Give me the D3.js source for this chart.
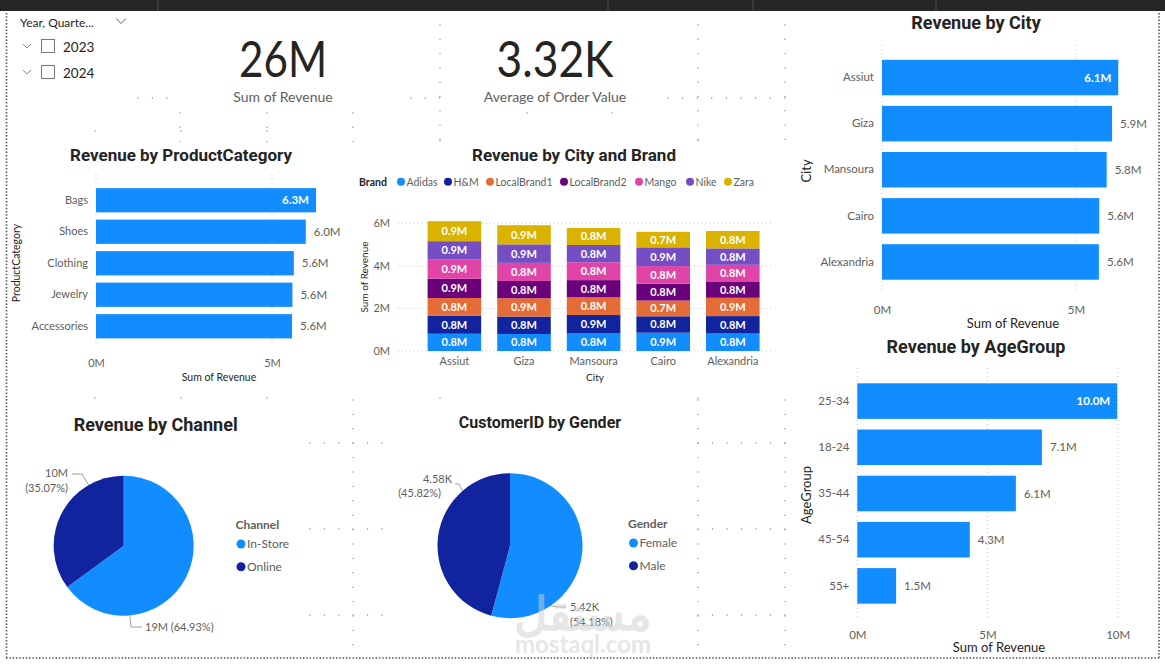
<!DOCTYPE html>
<html><head><meta charset="utf-8">
<script src="https://cdn.jsdelivr.net/npm/d3@7"></script>
<style>
html,body{margin:0;padding:0;background:#fff;}
svg{display:block;}
text{font-family:Lato,"Open Sans",sans-serif;}
.ttl{font-family:Roboto,sans-serif;font-weight:700;fill:#252423;}
</style></head>
<body>
<svg id="c" width="1165" height="669"></svg>
<script>
// ---------------- DATA ----------------
const years = ["2023", "2024"];
const kpiRevenue = "26M";
const kpiOrderValue = "3.32K";

const productCategories = ["Bags", "Shoes", "Clothing", "Jewelry", "Accessories"];
const productRevenue = [6.25, 5.96, 5.62, 5.58, 5.57];

const cities = ["Assiut", "Giza", "Mansoura", "Cairo", "Alexandria"];
const cityRevenue = [6.09, 5.93, 5.79, 5.60, 5.59];

const brands = ["Adidas", "H&M", "LocalBrand1", "LocalBrand2", "Mango", "Nike", "Zara"];
// revenue (M) per brand, in city order Assiut, Giza, Mansoura, Cairo, Alexandria
const brandAdidas      = [0.81, 0.80, 0.82, 0.86, 0.82];
const brandHM          = [0.84, 0.82, 0.87, 0.77, 0.82];
const brandLocalBrand1 = [0.84, 0.86, 0.83, 0.74, 0.86];
const brandLocalBrand2 = [0.91, 0.81, 0.81, 0.79, 0.77];
const brandMango       = [0.89, 0.85, 0.84, 0.83, 0.78];
const brandNike        = [0.87, 0.87, 0.81, 0.88, 0.77];
const brandZara        = [0.94, 0.90, 0.80, 0.73, 0.82];

const ageGroups = ["25-34", "18-24", "35-44", "45-54", "55+"];
const ageRevenue = [9.98, 7.09, 6.09, 4.32, 1.49];

const channels = ["In-Store", "Online"];
const channelRevenue = [18.83, 10.17];

const genders = ["Female", "Male"];
const genderCustomers = [5418, 4582];

const palette = ["#118DFF", "#12239E", "#E66C37", "#6B007B", "#E044A7", "#744EC2", "#D9B300"];

// ---------------- DRAW ----------------
const svg = d3.select("#c");
const fmtM = v => d3.format(".1f")(v) + "M";
const grid = "#c8c6c4", lab = "#605e5c", dark = "#252423";

// top bar
svg.append("rect").attr("x",0).attr("y",0).attr("width",1165).attr("height",11).attr("fill","#262626");
[158,608,753,936].forEach(x=>svg.append("line").attr("x1",x).attr("x2",x).attr("y1",0).attr("y2",11).attr("stroke","#4a4a4a"));

// canvas dotted border
const bd = svg.append("g").attr("stroke","#555").attr("stroke-width",1.6).attr("stroke-dasharray","1.5,1.8");
bd.append("line").attr("x1",6.5).attr("x2",6.5).attr("y1",13).attr("y2",658);
bd.append("line").attr("x1",1159).attr("x2",1159).attr("y1",13).attr("y2",658);
bd.append("line").attr("x1",6).attr("x2",1159).attr("y1",658).attr("y2",658);

// layout guide dots
const dots = svg.append("g").attr("fill","#8a8886");
function dotsH(x1,x2,y,s){for(let x=x1;x<=x2+0.1;x+=s)dots.append("circle").attr("cx",x).attr("cy",y).attr("r",0.7);}
function dotsV(x,y1,y2,s){for(let y=y1;y<=y2+0.1;y+=s)dots.append("circle").attr("cx",x).attr("cy",y).attr("r",0.7);}
dotsH(138,167,98,14.5); dotsH(411,440,98,14.3); dotsH(668,785,98,14.6);
dotsV(180,113,142,14.3); dotsV(267,113,142,14.3); dotsV(353,113,142,14.3);
dotsV(440,25,140,14.3); dotsV(527,113,127,14.3); dotsV(612,113,127,14.3);
dotsV(698,25,140,14.3); dotsV(785,25,140,14.3);
dotsV(353,400,652,14.4); dotsV(698,400,652,14.4); dotsV(785,400,652,14.4);
[443,529,615].forEach(y=>{dotsH(310,382,y,14.4); dotsH(698,785,y,14.5);});
dotsH(95,267,131,86); dotsH(95,267,398,86); dotsH(440,698,141,258); dotsH(440,698,398,258);

// slicer
svg.append("text").attr("x",20).attr("y",27).attr("font-size",12).attr("fill",dark).text("Year, Quarte...");
function chevron(x,y,w,h,col){svg.append("path").attr("d",`M${x-w},${y-h/2}L${x},${y+h/2}L${x+w},${y-h/2}`).attr("fill","none").attr("stroke",col).attr("stroke-width",1);}
chevron(121,21,5,5,"#605e5c");
years.forEach((yr,i)=>{
  const cy = 47 + i*26;
  chevron(27,cy-1,4,4,"#888");
  svg.append("rect").attr("x",41.5).attr("y",cy-7.5).attr("width",13).attr("height",13).attr("fill","none").attr("stroke","#777");
  svg.append("text").attr("x",63).attr("y",cy+5).attr("font-size",13.5).attr("fill",dark).text(yr);
});

// KPI cards
function kpi(cx,val,len,label){
  svg.append("text").attr("x",cx).attr("y",77).attr("text-anchor","middle").attr("font-family","Roboto").attr("font-size",51)
    .attr("fill","#252423").attr("textLength",len).attr("lengthAdjust","spacingAndGlyphs").text(val);
  svg.append("text").attr("x",cx).attr("y",102).attr("text-anchor","middle").attr("font-size",14).attr("fill",lab).text(label);
}
kpi(283,kpiRevenue,88,"Sum of Revenue");
kpi(555,kpiOrderValue,117,"Average of Order Value");

// ---------- horizontal bar chart helper ----------
function hbar(o){
  const g = svg.append("g");
  const x = d3.scaleLinear().domain([0,o.tickMax]).range([o.x0,o.x1]);
  const y = d3.scaleBand().domain(o.cats).range(o.yRange).paddingInner(0.23).paddingOuter(0.115);
  g.append("text").attr("class","ttl").attr("x",o.titleX).attr("y",o.titleY).attr("text-anchor","middle").attr("font-size",o.titleSize).text(o.title);
  g.selectAll(".gl").data(o.ticks).join("line").attr("x1",d=>x(d)).attr("x2",d=>x(d)).attr("y1",o.gy[0]).attr("y2",o.gy[1])
    .attr("stroke",grid).attr("stroke-dasharray","1,3");
  const ax = g.append("g").attr("transform",`translate(0,${o.tickY})`).call(d3.axisBottom(x).tickValues(o.ticks).tickSize(0).tickFormat(d=>d+"M"));
  ax.select(".domain").remove();
  ax.selectAll("text").attr("font-family","Lato").attr("font-size",o.tickSize).attr("fill",lab).attr("dy","0");
  const ay = g.append("g").attr("transform",`translate(${o.x0-8},0)`).call(d3.axisLeft(y).tickSize(0).tickPadding(0));
  ay.select(".domain").remove();
  ay.selectAll("text").attr("font-family","Lato").attr("font-size",o.catSize).attr("fill",lab);
  g.selectAll(".bar").data(o.vals).join("rect").attr("x",x(0)).attr("y",(d,i)=>y(o.cats[i]))
    .attr("width",d=>x(d)-x(0)).attr("height",y.bandwidth()).attr("fill",palette[0]);
  const mx = d3.max(o.vals);
  g.selectAll(".lb").data(o.vals).join("text")
    .attr("x",d=>d===mx? x(d)-7 : x(d)+o.lblGap)
    .attr("y",(d,i)=>y(o.cats[i])+y.bandwidth()/2).attr("dy","0.35em")
    .attr("text-anchor",d=>d===mx?"end":"start")
    .attr("font-size",o.lblSize).attr("font-weight",d=>d===mx?700:400)
    .attr("fill",d=>d===mx?"#fff":lab).text(d=>fmtM(d));
  g.append("text").attr("x",o.axTitleX).attr("y",o.axTitleY).attr("text-anchor","middle").attr("font-family","Roboto")
    .attr("font-size",o.axSize).attr("fill",dark).text("Sum of Revenue");
  g.append("text").attr("transform",`translate(${o.yTitleX},${o.yTitleY}) rotate(-90)`).attr("text-anchor","middle").attr("font-family","Roboto")
    .attr("font-size",o.axSize).attr("fill",dark).text(o.yTitle);
}

hbar({cats:productCategories, vals:productRevenue, tickMax:5, ticks:[0,5], x0:96, x1:272,
  yRange:[184.5,342], gy:[175,347], tickY:364, tickSize:11, catSize:11, lblSize:11.5, lblGap:8,
  title:"Revenue by ProductCategory", titleX:181, titleY:161, titleSize:17,
  axTitleX:219, axTitleY:381, axSize:10.5, yTitle:"ProductCategory", yTitleX:20, yTitleY:263});

hbar({cats:cities, vals:cityRevenue, tickMax:5, ticks:[0,5], x0:882, x1:1076,
  yRange:[54.5,285], gy:[45,290], tickY:311, tickSize:11.5, catSize:11.5, lblSize:11.5, lblGap:8,
  title:"Revenue by City", titleX:976, titleY:29, titleSize:18,
  axTitleX:1013, axTitleY:328, axSize:13, yTitle:"City", yTitleX:811, yTitleY:171});

hbar({cats:ageGroups, vals:ageRevenue, tickMax:10, ticks:[0,5,10], x0:857.3, x1:1117.7,
  yRange:[378,609], gy:[368,617], tickY:636, tickSize:11.5, catSize:11.5, lblSize:11.5, lblGap:8,
  title:"Revenue by AgeGroup", titleX:976, titleY:353, titleSize:18,
  axTitleX:999, axTitleY:652, axSize:13, yTitle:"AgeGroup", yTitleX:811, yTitleY:495});

// ---------- stacked column chart ----------
(function(){
  const g = svg.append("g");
  const series = [brandAdidas,brandHM,brandLocalBrand1,brandLocalBrand2,brandMango,brandNike,brandZara];
  const rows = cities.map((c,i)=>{const r={city:c}; brands.forEach((b,j)=>r[b]=series[j][i]); return r;});
  const stack = d3.stack().keys(brands)(rows);
  const x = d3.scaleBand().domain(cities).range([419.6,767.6]).paddingInner(0.23).paddingOuter(0.115);
  const y = d3.scaleLinear().domain([0,6]).range([351,223.3]);
  g.append("text").attr("class","ttl").attr("x",574).attr("y",161).attr("text-anchor","middle").attr("font-size",17).text("Revenue by City and Brand");
  g.append("text").attr("x",359).attr("y",185.5).attr("font-size",10.5).attr("font-weight",700).attr("fill",dark).text("Brand");
  const lx = [401,448,490,564,639,690,728];
  brands.forEach((b,i)=>{
    g.append("circle").attr("cx",lx[i]).attr("cy",181.7).attr("r",4).attr("fill",palette[i]);
    g.append("text").attr("x",lx[i]+5.5).attr("y",185.5).attr("font-size",10.5).attr("fill",lab).text(b);
  });
  const ticks=[0,2,4,6];
  g.selectAll(".gl").data(ticks).join("line").attr("x1",398).attr("x2",774).attr("y1",d=>y(d)).attr("y2",d=>y(d))
    .attr("stroke",grid).attr("stroke-dasharray","1,3");
  const ay = g.append("g").attr("transform","translate(390,0)").call(d3.axisLeft(y).tickValues(ticks).tickSize(0).tickPadding(0).tickFormat(d=>d+"M"));
  ay.select(".domain").remove();
  ay.selectAll("text").attr("font-family","Lato").attr("font-size",11).attr("fill",lab);
  const ax = g.append("g").attr("transform","translate(0,365)").call(d3.axisBottom(x).tickSize(0).tickPadding(0));
  ax.select(".domain").remove();
  ax.selectAll("text").attr("font-family","Lato").attr("font-size",11).attr("fill",lab).attr("dy","0");
  stack.forEach((s,si)=>{
    g.selectAll(".s"+si).data(s).join("rect").attr("x",d=>x(d.data.city)).attr("width",x.bandwidth())
      .attr("y",d=>y(d[1])).attr("height",d=>y(d[0])-y(d[1])).attr("fill",palette[si]);
    g.selectAll(".t"+si).data(s).join("text").attr("x",d=>x(d.data.city)+x.bandwidth()/2).attr("y",d=>(y(d[0])+y(d[1]))/2)
      .attr("dy","0.36em").attr("text-anchor","middle").attr("font-size",11).attr("font-weight",700).attr("fill","#fff")
      .text(d=>fmtM(d[1]-d[0]));
  });
  g.append("text").attr("x",595).attr("y",380.5).attr("text-anchor","middle").attr("font-family","Roboto").attr("font-size",10).attr("fill",dark).text("City");
  g.append("text").attr("transform","translate(367.5,277) rotate(-90)").attr("text-anchor","middle").attr("font-family","Roboto").attr("font-size",10).attr("fill",dark).text("Sum of Revenue");
})();

// ---------- pie helper ----------
function pie(o){
  const g = svg.append("g");
  g.append("text").attr("class","ttl").attr("x",o.titleX).attr("y",o.titleY).attr("text-anchor","middle").attr("font-size",o.titleSize).text(o.title);
  const arcs = d3.pie().sort(null).value(d=>d)(o.vals);
  const arc = d3.arc().innerRadius(0).outerRadius(o.r);
  const pg = g.append("g").attr("transform",`translate(${o.cx},${o.cy})`);
  pg.selectAll("path").data(arcs).join("path").attr("d",arc).attr("fill",(d,i)=>palette[i]);
  const total = d3.sum(o.vals);
  o.labels.forEach((L,i)=>{
    const a = L.angle*Math.PI/180;
    const px = o.cx + o.r*Math.sin(a), py = o.cy - o.r*Math.cos(a);
    g.append("path").attr("d",`M${px},${py}L${L.elbow[0]},${L.elbow[1]}L${L.end[0]},${L.end[1]}`)
      .attr("fill","none").attr("stroke","#a19f9d").attr("stroke-width",1);
    const pct = "(" + d3.format(".2f")(o.vals[i]/total*100) + "%)";
    const v = o.fmt(o.vals[i]);
    L.lines(v,pct).forEach(t=>{
      g.append("text").attr("x",t.x).attr("y",t.y).attr("text-anchor",t.anchor).attr("font-size",11).attr("fill",lab).text(t.s);
    });
  });
  g.append("text").attr("x",o.legX).attr("y",o.legY).attr("font-size",12).attr("font-weight",700).attr("fill",lab).text(o.legTitle);
  o.cats.forEach((c,i)=>{
    const yy = o.legY + 15 + i*22.7;
    g.append("circle").attr("cx",o.legX+5.5).attr("cy",yy).attr("r",4.5).attr("fill",palette[i]);
    g.append("text").attr("x",o.legX+11.5).attr("y",yy+4.3).attr("font-size",12).attr("fill",lab).text(c);
  });
}

pie({cats:channels, vals:channelRevenue, cx:123.7, cy:545.7, r:70,
  title:"Revenue by Channel", titleX:155.7, titleY:431, titleSize:18,
  fmt:v=>d3.format(".0f")(v)+"M",
  legTitle:"Channel", legX:235.5, legY:529,
  labels:[
    {angle:175, elbow:[131,627], end:[142,627], lines:(v,p)=>[{x:145,y:631,anchor:"start",s:v+" "+p}]},
    {angle:330, elbow:[82,474], end:[72,474], lines:(v,p)=>[{x:68,y:477,anchor:"end",s:v},{x:68,y:492,anchor:"end",s:p}]}
  ]});

pie({cats:genders, vals:genderCustomers, cx:510, cy:545.7, r:72.5,
  title:"CustomerID by Gender", titleX:540, titleY:428, titleSize:16,
  fmt:v=>d3.format(".2f")(v/1000)+"K",
  legTitle:"Gender", legX:628, legY:528,
  labels:[
    {angle:146, elbow:[557,607], end:[566,607], lines:(v,p)=>[{x:570,y:611,anchor:"start",s:v},{x:570,y:626,anchor:"start",s:p}]},
    {angle:319, elbow:[459,484], end:[455,484], lines:(v,p)=>[{x:452,y:483,anchor:"end",s:v},{x:441,y:497,anchor:"end",s:p}]}
  ]});

// watermark
const wm = svg.append("g").attr("opacity",0.5).attr("fill","#cfcfcf");
wm.append("text").attr("x",583).attr("y",630).attr("text-anchor","middle").attr("font-family","DejaVu Sans").attr("font-weight",700).attr("font-size",46).text("مستقل");
wm.append("text").attr("x",583).attr("y",653).attr("text-anchor","middle").attr("font-family","Roboto").attr("font-weight",700).attr("font-size",24).text("mostaql.com");
</script>
</body></html>
